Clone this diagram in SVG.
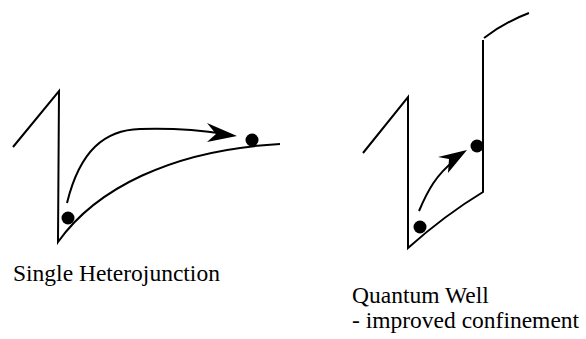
<svg xmlns="http://www.w3.org/2000/svg" width="586" height="339" viewBox="0 0 586 339">
<style>
.ln{fill:none;stroke:#000;stroke-width:2;stroke-linejoin:miter}
.dot{fill:#000}
text{font-family:'Liberation Serif','Times New Roman','DejaVu Serif',serif;font-size:23.5px;fill:#000}
</style>
<rect width="586" height="339" fill="#fff"/>
<g id="single-heterojunction">
<path class="ln" d="M13,147 L59,91 L58,242 C95,190 170,150 280,144"/>
<circle class="dot" cx="68" cy="218" r="6.5"/>
<circle class="dot" cx="252" cy="140" r="6.5"/>
</g>
<g id="quantum-well">
<path class="ln" d="M363,153 L408,97 L408,248 Q445,215 483,192 L483,40"/>
<path class="ln" d="M484,38 Q505,22 529,13"/>
<circle class="dot" cx="420" cy="227" r="6.5"/>
<circle class="dot" cx="477" cy="146" r="6.5"/>
</g>
<g id="connectors">
<path class="ln" d="M67,203 C80,150 105,130 140,129 C175,128 200,130 225,134"/>
<path class="dot" d="M237,136 L207,123 L216,134 L207,142 Z"/>
<path class="ln" d="M419,211 C428,190 436,175 455,160"/>
<path class="dot" d="M467,150 L438,157 L449,159 L448,173 Z"/>
</g>
<text x="13" y="281" font-family="Liberation Serif, serif">Single Heterojunction</text>
<text x="352" y="303" font-family="Liberation Serif, serif">Quantum Well</text>
<text x="352" y="328" font-family="Liberation Serif, serif">- improved confinement</text>
</svg>
